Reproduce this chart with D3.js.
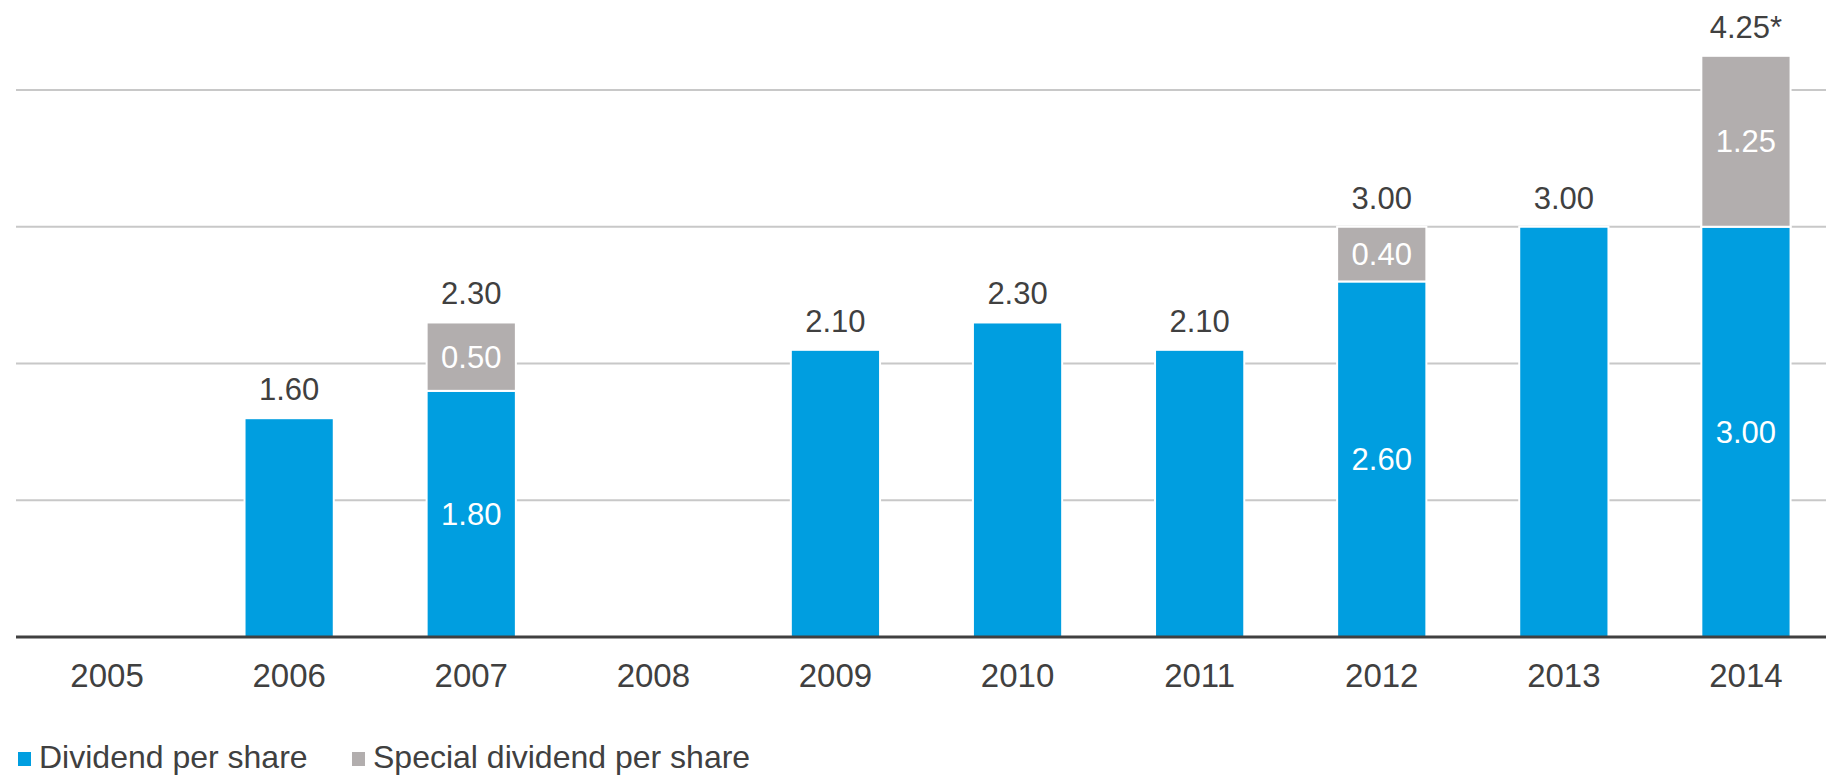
<!DOCTYPE html>
<html>
<head>
<meta charset="utf-8">
<script src="https://cdn.jsdelivr.net/npm/d3@7"></script>
<style>
  body { margin: 0; background: #fff; }
  text { font-family: "Liberation Sans", Arial, sans-serif; }
</style>
</head>
<body>
<div id="chart"></div>
<script>
// data
const years = ["2005", "2006", "2007", "2008", "2009", "2010", "2011", "2012", "2013", "2014"];
const dividend = [0, 1.60, 1.80, 0, 2.10, 2.30, 2.10, 2.60, 3.00, 3.00];
const special = [0, 0, 0.50, 0, 0, 0, 0, 0.40, 0, 1.25];
const totalLabels = ["", "1.60", "2.30", "", "2.10", "2.30", "2.10", "3.00", "3.00", "4.25*"];
const gridTicks = [1, 2, 3, 4];
const seriesNames = ["Dividend per share", "Special dividend per share"];
const colors = ["#009ee0", "#b2aeae"];

const W = 1826, H = 776;

const svg = d3.select("#chart").append("svg")
  .attr("width", W)
  .attr("height", H);

const x = d3.scaleBand()
  .domain(years)
  .range([16, 1837])
  .paddingInner(0.51)
  .paddingOuter(0.255);

const y = d3.scaleLinear()
  .domain([0, 4])
  .range([637, 90]);

// gridlines
svg.append("g")
  .selectAll("line")
  .data(gridTicks)
  .join("line")
  .attr("x1", 16)
  .attr("x2", W)
  .attr("y1", d => y(d))
  .attr("y2", d => y(d))
  .attr("stroke", "#c8c8c8")
  .attr("stroke-width", 2);

// stacked bars
const rows = years.map((yr, i) => ({ year: yr, dividend: dividend[i], special: special[i] }));
const stack = d3.stack().keys(["dividend", "special"])(rows);

svg.append("g")
  .selectAll("g")
  .data(stack)
  .join("g")
  .attr("fill", (d, i) => colors[i])
  .selectAll("rect")
  .data(d => d.filter(p => p[1] > p[0]))
  .join("rect")
  .attr("x", d => x(d.data.year))
  .attr("width", x.bandwidth())
  .attr("y", d => y(d[1]))
  .attr("height", d => y(d[0]) - y(d[1]))
  .attr("stroke", "#fff")
  .attr("stroke-width", 2);

// baseline
svg.append("line")
  .attr("x1", 16)
  .attr("x2", W)
  .attr("y1", y(0))
  .attr("y2", y(0))
  .attr("stroke", "#404040")
  .attr("stroke-width", 3);

// labels inside stacked segments (only for bars that have a special part)
const inner = [];
stack.forEach(s => s.forEach(p => {
  if (p[1] > p[0] && p.data.special > 0) inner.push({ year: p.data.year, v: p[1] - p[0], mid: (p[0] + p[1]) / 2 });
}));

svg.append("g")
  .selectAll("text")
  .data(inner)
  .join("text")
  .attr("x", d => x(d.year) + x.bandwidth() / 2)
  .attr("y", d => y(d.mid))
  .attr("dy", "0.36em")
  .attr("text-anchor", "middle")
  .attr("fill", "#fff")
  .style("font-size", "31px")
  .text(d => d.v.toFixed(2));

// total labels
svg.append("g")
  .selectAll("text")
  .data(rows.map((r, i) => ({ year: r.year, total: r.dividend + r.special, label: totalLabels[i] })).filter(d => d.label))
  .join("text")
  .attr("x", d => x(d.year) + x.bandwidth() / 2)
  .attr("y", d => y(d.total) - 18)
  .attr("text-anchor", "middle")
  .attr("fill", "#404040")
  .style("font-size", "31px")
  .text(d => d.label);

// x axis labels
svg.append("g")
  .selectAll("text")
  .data(years)
  .join("text")
  .attr("x", d => x(d) + x.bandwidth() / 2)
  .attr("y", 687)
  .attr("text-anchor", "middle")
  .attr("fill", "#404040")
  .style("font-size", "33px")
  .text(d => d);

// legend
const legend = svg.append("g").attr("transform", "translate(18, 768)");
const legX = [0, 334];
seriesNames.forEach((name, i) => {
  const item = legend.append("g").attr("transform", `translate(${legX[i]},0)`);
  item.append("rect")
    .attr("x", 0)
    .attr("y", -16)
    .attr("width", 13)
    .attr("height", 14)
    .attr("fill", colors[i]);
  item.append("text")
    .attr("x", 21)
    .attr("y", 0)
    .attr("fill", "#404040")
    .style("font-size", "32px")
    .text(name);
});
</script>
</body>
</html>
